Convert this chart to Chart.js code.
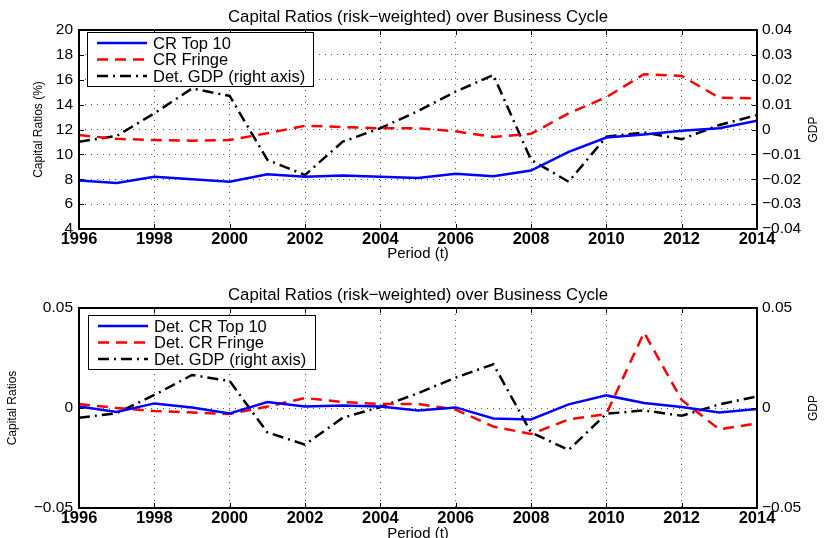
<!DOCTYPE html>
<html>
<head>
<meta charset="utf-8">
<script src="https://cdn.jsdelivr.net/npm/chart.js@4.4.0/dist/chart.umd.min.js"></script>
<style>
  html, body { margin: 0; padding: 0; background: #fff; overflow: hidden; }
  .box { position: absolute; left: 0; width: 825px; }
  #boxTop { top: 0; height: 269px; }
  #boxBottom { top: 269px; height: 276px; }
</style>
</head>
<body>
<div class="box" id="boxTop"><canvas id="topChart"></canvas></div>
<div class="box" id="boxBottom"><canvas id="bottomChart"></canvas></div>
<script>
// data
const years = [1996, 1997, 1998, 1999, 2000, 2001, 2002, 2003, 2004, 2005,
               2006, 2007, 2008, 2009, 2010, 2011, 2012, 2013, 2014];

// top panel, capital ratios in %
const crTop10 = [7.9, 7.7, 8.2, 8.0, 7.8, 8.4, 8.2, 8.3, 8.2, 8.1,
                 8.45, 8.25, 8.7, 10.2, 11.35, 11.6, 11.9, 12.1, 12.7];
const crFringe = [11.55, 11.25, 11.15, 11.1, 11.15, 11.7, 12.3, 12.2, 12.1, 12.1,
                  11.85, 11.4, 11.65, 13.3, 14.6, 16.45, 16.3, 14.55, 14.5];

// detrended GDP (right axis, both panels)
const detGdp = [-0.0049, -0.0026, 0.0065, 0.0165, 0.0135, -0.0122, -0.0183, -0.0049, 0.0005, 0.0074,
                0.0152, 0.0219, -0.0122, -0.021, -0.0029, -0.0012, -0.0039, 0.0018, 0.0058];

// bottom panel, detrended capital ratios
const detCrTop10 = [0.0007, -0.002, 0.0023, 0.0003, -0.0027, 0.003, 0.0007, 0.0012, 0.0007, -0.0012,
                    0.0003, -0.0052, -0.0057, 0.0018, 0.0063, 0.0025, 0.0005, -0.0023, -0.0005];
const detCrFringe = [0.002, 0.0, -0.0015, -0.0023, -0.003, 0.0007, 0.005, 0.003, 0.002, 0.002,
                     -0.0008, -0.0093, -0.013, -0.0057, -0.003, 0.0377, 0.004, -0.0107, -0.0077];

const xTicks = [1996, 1998, 2000, 2002, 2004, 2006, 2008, 2010, 2012, 2014];

const FONT = '"Liberation Sans", Arial, Helvetica, sans-serif';
const TITLE = 'Capital Ratios (risk\u2212weighted) over Business Cycle';

function pts(vals) {
  return years.map((y, i) => ({ x: y, y: vals[i] }));
}

function fmt(v) {
  const r = Math.round(v * 100) / 100;
  if (r === 0) return '0';
  return (r < 0 ? '\u2212' : '') + Math.abs(r).toFixed(2);
}

function line(label, vals, color, dash, axis) {
  return {
    label: label,
    data: pts(vals),
    borderColor: color,
    backgroundColor: color,
    borderWidth: 2.5,
    borderDash: dash,
    pointRadius: 0,
    tension: 0,
    yAxisID: axis
  };
}

// frame, inner tick marks, legend box, right axis label
const matlabBits = {
  id: 'matlabBits',
  afterDatasetsDraw(chart, args, opts) {
    const ctx = chart.ctx;
    const a = chart.chartArea;
    const s = chart.scales;
    ctx.save();
    ctx.setLineDash([]);
    ctx.strokeStyle = '#000';
    ctx.lineWidth = 1;
    // inner ticks
    ctx.beginPath();
    s.x.ticks.forEach(t => {
      const px = Math.round(s.x.getPixelForValue(t.value)) + 0.5;
      ctx.moveTo(px, a.bottom); ctx.lineTo(px, a.bottom - 5);
      ctx.moveTo(px, a.top); ctx.lineTo(px, a.top + 5);
    });
    s.y.ticks.forEach(t => {
      const py = Math.round(s.y.getPixelForValue(t.value)) + 0.5;
      ctx.moveTo(a.left, py); ctx.lineTo(a.left + 5, py);
    });
    s.y1.ticks.forEach(t => {
      const py = Math.round(s.y1.getPixelForValue(t.value)) + 0.5;
      ctx.moveTo(a.right, py); ctx.lineTo(a.right - 5, py);
    });
    ctx.stroke();
    // frame
    ctx.lineWidth = 2;
    ctx.strokeRect(a.left, a.top, a.right - a.left, a.bottom - a.top);

    // legend
    const L = opts.legend;
    ctx.fillStyle = '#fff';
    ctx.fillRect(L.x, L.y, L.w, L.h);
    ctx.lineWidth = 1;
    ctx.strokeRect(L.x + 0.5, L.y + 0.5, L.w, L.h);
    ctx.font = '16.5px ' + FONT;
    ctx.textBaseline = 'middle';
    ctx.textAlign = 'left';
    chart.data.datasets.forEach((d, i) => {
      const yy = L.y + 11 + i * 16.5;
      ctx.strokeStyle = d.borderColor;
      ctx.lineWidth = 2.5;
      ctx.setLineDash(d.borderDash || []);
      ctx.beginPath();
      ctx.moveTo(L.x + 10, yy);
      ctx.lineTo(L.x + 60, yy);
      ctx.stroke();
      ctx.setLineDash([]);
      ctx.fillStyle = '#000';
      ctx.fillText(d.label, L.x + 66, yy + 1);
    });

    // right axis label, reads bottom to top
    ctx.save();
    ctx.translate(814, (a.top + a.bottom) / 2);
    ctx.rotate(-Math.PI / 2);
    ctx.font = '12px ' + FONT;
    ctx.textAlign = 'center';
    ctx.textBaseline = 'middle';
    ctx.fillStyle = '#000';
    ctx.fillText('GDP', 0, 0);
    ctx.restore();
    ctx.restore();
  }
};

function makeChart(id, datasets, p) {
  const gridDots = { color: '#555', lineWidth: 1, drawTicks: false };
  return new Chart(document.getElementById(id), {
    type: 'line',
    data: { datasets: datasets },
    plugins: [matlabBits],
    options: {
      responsive: true,
      maintainAspectRatio: false,
      animation: false,
      layout: { padding: 0 },
      plugins: {
        legend: { display: false },
        tooltip: { enabled: false },
        title: {
          display: true,
          text: TITLE,
          color: '#000',
          fullSize: false,
          font: { family: FONT, size: 16.8, weight: 'normal', lineHeight: 1 },
          padding: { top: p.titleTop, bottom: p.titleBottom }
        },
        matlabBits: { legend: p.legend }
      },
      scales: {
        x: {
          type: 'linear',
          min: 1996, max: 2014,
          afterBuildTicks: sc => { sc.ticks = xTicks.map(v => ({ value: v })); },
          afterFit: sc => { sc.height = p.xHeight; },
          grid: gridDots,
          border: { display: false, dash: [1, 5] },
          ticks: {
            color: '#000', padding: 1,
            font: { family: FONT, size: 16.5, weight: 'bold' },
            maxRotation: 0,
            callback: v => String(v)
          },
          title: {
            display: true, text: 'Period (t)', color: '#000',
            font: { family: FONT, size: 15, lineHeight: 1 },
            padding: { top: 0, bottom: p.periodPad }
          }
        },
        y: {
          position: 'left',
          min: p.yMin, max: p.yMax,
          afterBuildTicks: sc => { sc.ticks = p.yTicks.map(v => ({ value: v })); },
          afterFit: sc => { sc.width = 79; },
          grid: gridDots,
          border: { display: false, dash: [1, 5] },
          ticks: {
            color: '#000', padding: 6,
            font: { family: FONT, size: 15.5 },
            callback: p.yFmt
          },
          title: {
            display: true, text: p.yTitle, color: '#000',
            font: { family: FONT, size: 12 },
            padding: { top: p.yTitlePad, bottom: 0 }
          }
        },
        y1: {
          position: 'right',
          min: p.y1Min, max: p.y1Max,
          afterBuildTicks: sc => { sc.ticks = p.y1Ticks.map(v => ({ value: v })); },
          afterFit: sc => { sc.width = 68; },
          grid: { display: false, drawTicks: false },
          border: { display: false },
          ticks: {
            color: '#000', padding: 5,
            font: { family: FONT, size: 15.5 },
            callback: v => fmt(v)
          }
        }
      }
    }
  });
}

makeChart('topChart', [
  line('CR Top 10', crTop10, '#0000ff', [], 'y'),
  line('CR Fringe', crFringe, '#ff0000', [11, 7], 'y'),
  line('Det. GDP (right axis)', detGdp, '#000000', [11, 5, 2, 5], 'y1')
], {
  titleTop: 9, titleBottom: 4.2, xHeight: 40, periodPad: 7.5,
  yMin: 4, yMax: 20, yTicks: [4, 6, 8, 10, 12, 14, 16, 18, 20],
  yFmt: v => String(v), yTitle: 'Capital Ratios (%)', yTitlePad: 31.8,
  y1Min: -0.04, y1Max: 0.04, y1Ticks: [-0.04, -0.03, -0.02, -0.01, 0, 0.01, 0.02, 0.03, 0.04],
  legend: { x: 87, y: 32, w: 226, h: 54 }
});

makeChart('bottomChart', [
  line('Det. CR Top 10', detCrTop10, '#0000ff', [], 'y'),
  line('Det. CR Fringe', detCrFringe, '#ff0000', [11, 7], 'y'),
  line('Det. GDP (right axis)', detGdp, '#000000', [11, 5, 2, 5], 'y1')
], {
  titleTop: 18, titleBottom: 4.2, xHeight: 37, periodPad: 3.5,
  yMin: -0.05, yMax: 0.05, yTicks: [-0.05, 0, 0.05],
  yFmt: v => fmt(v), yTitle: 'Capital Ratios', yTitlePad: 5.8,
  y1Min: -0.05, y1Max: 0.05, y1Ticks: [-0.05, 0, 0.05],
  legend: { x: 88, y: 46, w: 227, h: 54 }
});
</script>
</body>
</html>
